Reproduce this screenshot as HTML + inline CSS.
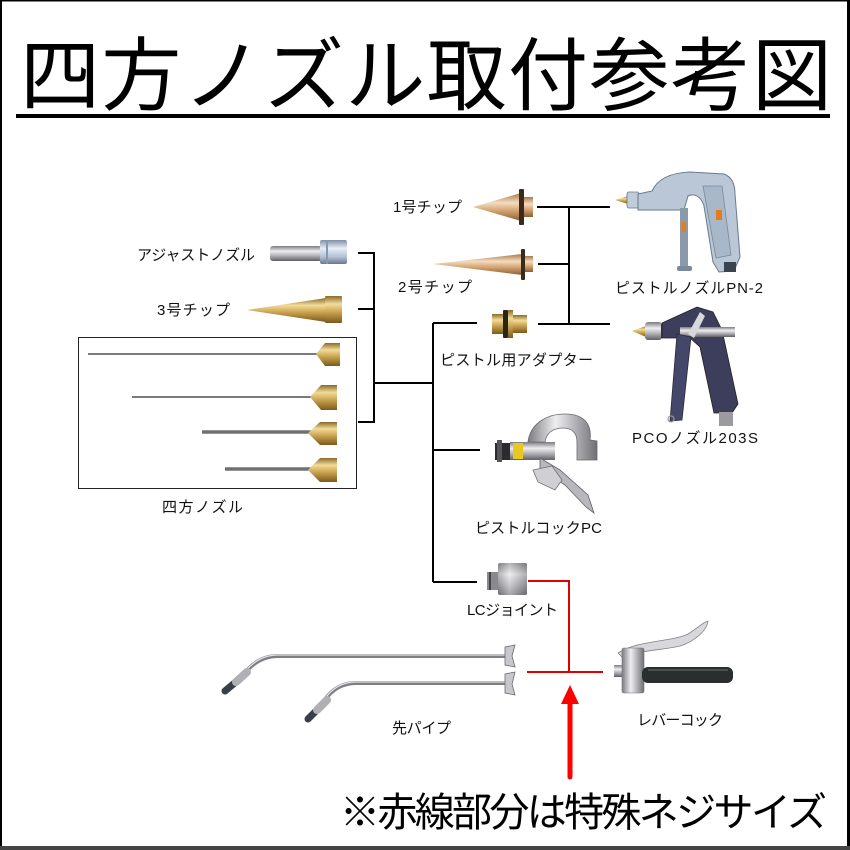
<!DOCTYPE html>
<html><head><meta charset="utf-8">
<style>
html,body{margin:0;padding:0;background:#fff;}
svg{display:block;}
text{font-family:"Liberation Sans","Noto Sans CJK JP",sans-serif;fill:#111;}
</style></head>
<body>
<svg width="850" height="850" viewBox="0 0 850 850" xmlns="http://www.w3.org/2000/svg">
<defs>
<linearGradient id="brass" x1="0" y1="0" x2="0" y2="1">
<stop offset="0" stop-color="#8a6a28"/><stop offset="0.3" stop-color="#f2dc9a"/><stop offset="0.6" stop-color="#c9a24e"/><stop offset="1" stop-color="#7a5a1e"/></linearGradient>
<linearGradient id="copper" x1="0" y1="0" x2="0" y2="1">
<stop offset="0" stop-color="#a8784a"/><stop offset="0.35" stop-color="#f4dcc0"/><stop offset="0.65" stop-color="#d1a06c"/><stop offset="1" stop-color="#8a5e36"/></linearGradient>
<linearGradient id="silver" x1="0" y1="0" x2="0" y2="1">
<stop offset="0" stop-color="#7c7c80"/><stop offset="0.35" stop-color="#eeeef0"/><stop offset="0.65" stop-color="#b0b0b4"/><stop offset="1" stop-color="#606064"/></linearGradient>
<linearGradient id="silverb" x1="0" y1="0" x2="0" y2="1">
<stop offset="0" stop-color="#8090a8"/><stop offset="0.35" stop-color="#e8eef8"/><stop offset="0.7" stop-color="#b4c0d4"/><stop offset="1" stop-color="#6a7890"/></linearGradient>
<linearGradient id="silverh" x1="0" y1="0" x2="1" y2="0">
<stop offset="0" stop-color="#7c7c80"/><stop offset="0.4" stop-color="#eeeef0"/><stop offset="1" stop-color="#707074"/></linearGradient>
</defs>

<rect x="0" y="0" width="850" height="850" fill="#fff"/>
<!-- outer border -->
<rect x="0" y="0" width="2" height="850" fill="#000"/>
<rect x="0" y="0" width="850" height="1.5" fill="#000"/>
<rect x="847" y="0" width="3" height="850" fill="#000"/>
<rect x="0" y="846" width="850" height="4" fill="#444"/>

<!-- title -->
<text x="20" y="104" font-size="80" textLength="812" style="font-family:'Noto Sans CJK JP',sans-serif;fill:#000">四方ノズル取付参考図</text>
<rect x="16" y="114" width="814" height="4" fill="#000"/>

<!-- connector lines -->
<g stroke="#000" stroke-width="2" fill="none">
<path d="M358,253 H374 V422 H358 M358,309 H374 M374,383 H433"/>
<path d="M433,323 V582 M433,323 H477 M433,450 H480 M433,582 H477"/>
<path d="M537,207 H610 M569,207 V324 M538,264 H569 M538,324 H610"/>
</g>
<g stroke="#e00000" stroke-width="2" fill="none">
<path d="M528,581 H569 V672 M527,672 H603"/>
</g>
<!-- red arrow -->
<line x1="570" y1="700" x2="570" y2="777" stroke="#f00" stroke-width="5" stroke-linecap="round"/>
<polygon points="561,704 579,704 570,685" fill="#f00"/>

<!-- box for four nozzles -->
<rect x="78.5" y="337.5" width="278" height="151" fill="none" stroke="#222" stroke-width="1"/>

<!-- adjust nozzle -->
<rect x="270" y="246" width="52" height="15" rx="3" fill="url(#silver)"/>
<rect x="320" y="240" width="27" height="24" rx="2" fill="url(#silverb)"/>
<rect x="326" y="240" width="2" height="24" fill="#8898b0"/>
<!-- 3号 tip -->
<polygon points="247,310 326,298 326,322" fill="url(#brass)"/>
<rect x="325" y="296" width="17" height="27" rx="1" fill="url(#brass)"/>

<!-- four nozzles -->
<g>
<line x1="88" y1="354" x2="318" y2="354" stroke="#7a7a7e" stroke-width="2"/>
<polygon points="316,354 325,343 340,343 340,366 325,366" fill="url(#brass)"/>
<line x1="132" y1="397" x2="312" y2="397" stroke="#7a7a7e" stroke-width="2"/>
<polygon points="310,397 321,385 337,385 337,410 321,410" fill="url(#brass)"/>
<line x1="202" y1="432" x2="312" y2="432" stroke="#707074" stroke-width="3.5"/>
<polygon points="308,433 320,422 337,422 337,445 320,445" fill="url(#brass)"/>
<line x1="225" y1="469" x2="312" y2="469" stroke="#707074" stroke-width="3.5"/>
<polygon points="308,470 320,458 337,458 337,482 320,482" fill="url(#brass)"/>
</g>

<!-- 1号 tip -->
<polygon points="473,207 521,193 521,221" fill="url(#copper)"/>
<rect x="519" y="189" width="5" height="36" rx="1" fill="#3a2a1a"/>
<rect x="524" y="197" width="9" height="20" fill="url(#copper)"/>
<!-- 2号 tip -->
<polygon points="433,264 522,254 522,275" fill="url(#copper)"/>
<rect x="521" y="249" width="4" height="31" rx="1" fill="#3a2a1a"/>
<rect x="525" y="256" width="8" height="16" fill="url(#copper)"/>
<!-- adapter -->
<rect x="492" y="314" width="13" height="20" fill="url(#brass)"/>
<rect x="503" y="310" width="5" height="28" rx="1" fill="#2a2418"/>
<rect x="508" y="310" width="5" height="28" fill="url(#brass)"/>
<rect x="513" y="315" width="14" height="18" fill="url(#brass)"/>

<!-- PN-2 gun -->
<g>
<polygon points="615,200 628,196 628,204" fill="url(#brass)"/>
<rect x="627" y="192" width="12" height="16" rx="2" fill="#c0ccd8" stroke="#6a7888" stroke-width="0.8"/>
<path d="M638,194 L652,191 C657,180 668,173 690,172 L724,174 C732,177 735,184 735,194 L740,257 L734,271 L719,272 L713,262 L704,206 C701,196 694,193 688,196 L684,210 L638,210 Z" fill="#b9c7d6" stroke="#6a7a8c" stroke-width="1"/>
<path d="M703,186 L722,186 L731,255 L716,258 Z" fill="#a8b8c8" stroke="#7a8898" stroke-width="0.8"/>
<rect x="716" y="210" width="6" height="10" fill="#e87a1a"/>
<rect x="680" y="208" width="8" height="58" fill="#8a9aaa"/>
<rect x="682" y="222" width="4" height="10" fill="#e87a1a"/>
<rect x="677" y="266" width="15" height="5" rx="2" fill="#7a8a9a"/>
<rect x="724" y="262" width="12" height="10" fill="#3a4450"/>
</g>

<!-- PCO gun -->
<g>
<polygon points="632,331 646,326 646,337" fill="url(#brass)"/>
<rect x="645" y="322" width="17" height="18" rx="3" fill="url(#silver)"/>
<rect x="661" y="324" width="17" height="14" fill="#3a3a52"/>
<path d="M662,323 L697,307 L713,312 L722,330 L738,404 L732,413 L714,413 L700,347 L690,338 L662,338 Z" fill="#3d3d5c" stroke="#222" stroke-width="0.8"/>
<rect x="680" y="327" width="55" height="10" fill="url(#silver)"/>
<path d="M677,334 L691,337 L682,420 L670,421 Z" fill="#44466a" stroke="#2a2a3a" stroke-width="0.8"/>
<path d="M688,334 L700,312 L705,316 L694,338 Z" fill="#d8d8dc"/>
<rect x="719" y="412" width="14" height="14" fill="#9a9aa0"/>
<circle cx="671" cy="419" r="3" fill="none" stroke="#999" stroke-width="1.2"/>
</g>

<!-- Pistol cock PC -->
<g>
<rect x="495" y="443" width="16" height="17" fill="#2c2c30"/>
<rect x="497" y="440" width="5" height="22" fill="#555"/>
<rect x="510" y="442" width="45" height="18" fill="url(#silver)"/>
<rect x="513" y="443" width="10" height="16" fill="#e8c820"/>
<path d="M528,442 C530,425 545,414 565,414 C585,414 592,425 590,440 L597,441 L597,460 L577,460 L577,442 C577,433 572,428 563,428 C552,428 546,434 545,442 Z" fill="url(#silverh)" stroke="#6a6a70" stroke-width="0.8"/>
<path d="M540,458 L560,470 L588,495 L594,513 L586,507 L565,485 L540,468 Z" fill="#b8b8bc" stroke="#606066" stroke-width="0.8"/>
<path d="M533,470 L552,466 L562,480 L555,490 L538,482 Z" fill="#d0d0d4" stroke="#707078" stroke-width="0.8"/>
</g>

<!-- LC joint -->
<rect x="487" y="572" width="12" height="18" fill="#8a8a8e"/>
<rect x="489" y="572" width="2" height="18" fill="#444"/>
<rect x="498" y="563" width="29" height="32" rx="2" fill="url(#silverh)"/>
<rect x="498" y="563" width="29" height="32" rx="2" fill="url(#silver)" opacity="0.5"/>

<!-- pipes -->
<g fill="none" stroke-linecap="round">
<path d="M244,674 Q258,656 278,656 L506,656" stroke="#7e7e84" stroke-width="4"/>
<path d="M244,673 Q258,655 278,655 L506,655" stroke="#e4e4e8" stroke-width="1.2"/>
<path d="M324,701 Q336,683 356,683 L506,683" stroke="#7e7e84" stroke-width="4"/>
<path d="M324,700 Q336,682 356,682 L506,682" stroke="#e4e4e8" stroke-width="1.2"/>
<line x1="225" y1="691" x2="237" y2="681" stroke="#3a3e48" stroke-width="7"/>
<line x1="236" y1="682" x2="247" y2="672" stroke="#b0b0b4" stroke-width="8"/>
<line x1="308" y1="719" x2="318" y2="709" stroke="#3a3e48" stroke-width="7"/>
<line x1="317" y1="710" x2="327" y2="700" stroke="#b0b0b4" stroke-width="8"/>
</g>
<path d="M505,647 L515,645 L512,656 L515,667 L505,665 Z" fill="#c8c8cc" stroke="#6a6a70" stroke-width="0.8"/>
<path d="M505,674 L515,672 L512,684 L515,695 L505,693 Z" fill="#c8c8cc" stroke="#6a6a70" stroke-width="0.8"/>

<!-- lever cock -->
<g>
<path d="M618,653 C638,640 672,642 688,634 C698,628 703,622 708,621 C707,630 696,641 680,646 C660,651 640,649 624,659 Z" fill="#d8d8dc" stroke="#808086" stroke-width="0.8"/>
<rect x="614" y="665" width="11" height="12" fill="url(#silver)"/>
<rect x="622" y="648" width="22" height="45" rx="2" fill="url(#silverh)" stroke="#707076" stroke-width="0.6"/>
<rect x="642" y="667" width="91" height="16" rx="6" fill="#2b2e2e"/>
<rect x="648" y="669" width="80" height="2" fill="#4a4e4e"/>
</g>

<!-- labels -->
<g font-size="15">
<text x="137" y="260" textLength="118">アジャストノズル</text>
<text x="157" y="315" textLength="73">3号チップ</text>
<text x="162" y="512" textLength="81">四方ノズル</text>
<text x="393" y="212" textLength="69">1号チップ</text>
<text x="398" y="292" textLength="74">2号チップ</text>
<text x="440" y="365" textLength="153">ピストル用アダプター</text>
<text x="615" y="293" textLength="148">ピストルノズルPN-2</text>
<text x="632" y="443" textLength="126">PCOノズル203S</text>
<text x="475" y="533" textLength="127">ピストルコックPC</text>
<text x="467" y="615" textLength="91">LCジョイント</text>
<text x="392" y="733" textLength="59">先パイプ</text>
<text x="637" y="725" textLength="86">レバーコック</text>
</g>

<text x="340" y="826" font-size="40" textLength="487" style="font-family:'Noto Sans CJK JP',sans-serif;fill:#000">※赤線部分は特殊ネジサイズ</text>
</svg>
</body></html>
